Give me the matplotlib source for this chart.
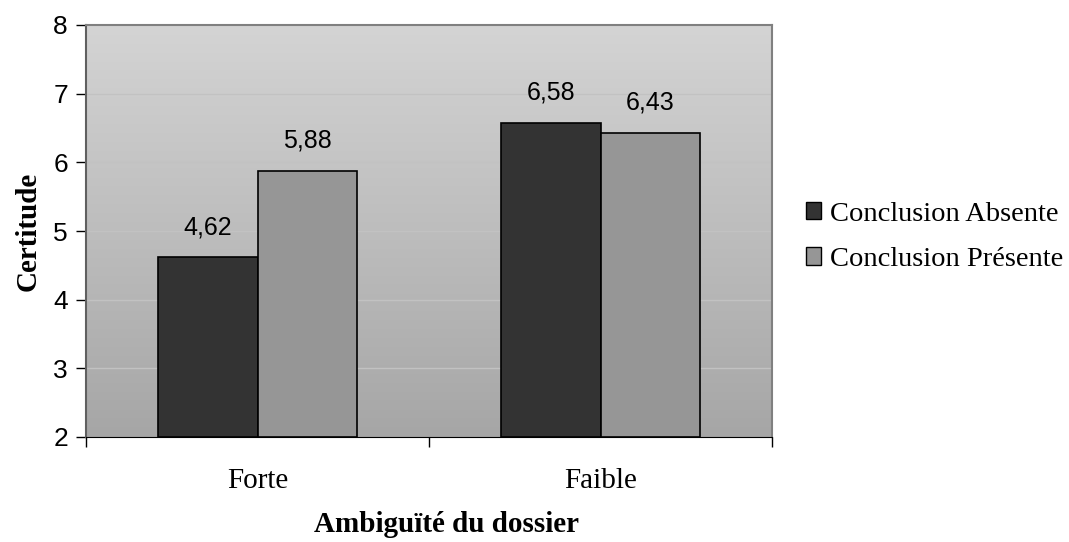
import numpy as np
import matplotlib
matplotlib.use('Agg')
import matplotlib.pyplot as plt
from matplotlib.colors import LinearSegmentedColormap
from matplotlib.patches import Patch

# data
categories = ['Forte', 'Faible']
series_names = ['Conclusion Absente', 'Conclusion Présente']
absente = [4.62, 6.58]
presente = [5.88, 6.43]
colors = ['#333333', '#969696']

SERIF = 'Liberation Serif'
SANS = 'Liberation Sans'

fig = plt.figure(figsize=(10.69, 5.42), dpi=100)
ax = fig.add_axes([86 / 1069, 105 / 542, 686 / 1069, 412 / 542])

# gradient background of the plot area
grad = np.linspace(0, 1, 256).reshape(-1, 1)
cmap = LinearSegmentedColormap.from_list('bg', ['#a6a6a6', '#d4d4d4'])
ax.imshow(grad, cmap=cmap, origin='lower', extent=[0, 1, 0, 1],
          transform=ax.transAxes, aspect='auto', zorder=0)

x = np.arange(len(categories))
w = 0.29
b1 = ax.bar(x - w / 2, np.array(absente) - 2, w, bottom=2, color=colors[0],
            edgecolor='black', linewidth=1.2, zorder=3)
b2 = ax.bar(x + w / 2, np.array(presente) - 2, w, bottom=2, color=colors[1],
            edgecolor='black', linewidth=1.2, zorder=3)

for bars, vals in ((b1, absente), (b2, presente)):
    for rect, v in zip(bars, vals):
        ax.annotate(f'{v:.2f}'.replace('.', ','),
                    (rect.get_x() + rect.get_width() / 2, v),
                    xytext=(0, 13), textcoords='offset points',
                    ha='center', va='bottom', fontsize=18, family=SANS)

ax.set_xlim(-0.5, 1.5)
ax.set_ylim(2, 8)
ax.set_yticks(range(2, 9))
ax.set_yticklabels([str(v) for v in range(2, 9)], fontsize=19, family=SANS)
for y in range(3, 8):
    ax.axhline(y, color='#c2c2c2', linewidth=1, zorder=1)

ax.set_xticks([-0.5, 0.5, 1.5])
ax.set_xticklabels([])
ax.set_xticks(x, minor=True)
ax.set_xticklabels(categories, minor=True, fontsize=21, family=SERIF)
ax.tick_params(axis='x', which='minor', length=0, pad=22)
ax.tick_params(axis='x', which='major', length=7, width=1, direction='out')
ax.tick_params(axis='y', length=7, width=1, direction='out', pad=6)

for s in ['top', 'right', 'left']:
    ax.spines[s].set_color('#808080')
    ax.spines[s].set_linewidth(1.5)
ax.spines['left'].set_color('#606060')
ax.spines['bottom'].set_color('black')

ax.set_ylabel('Certitude', fontsize=21, family=SERIF, fontweight='bold', labelpad=8)
ax.set_xlabel('Ambiguïté du dossier', fontsize=21, family=SERIF, fontweight='bold')
ax.xaxis.set_label_coords(0.525, -0.18)

handles = [Patch(facecolor=c, edgecolor='black', linewidth=1) for c in colors]
fig.legend(handles, series_names, loc='center left', bbox_to_anchor=(780 / 1069, 0.563),
           frameon=False, prop={'family': SERIF, 'size': 20.5},
           handlelength=0.55, handleheight=0.55, handletextpad=0.3, labelspacing=0.72)

fig.savefig('out.png', dpi=100)
